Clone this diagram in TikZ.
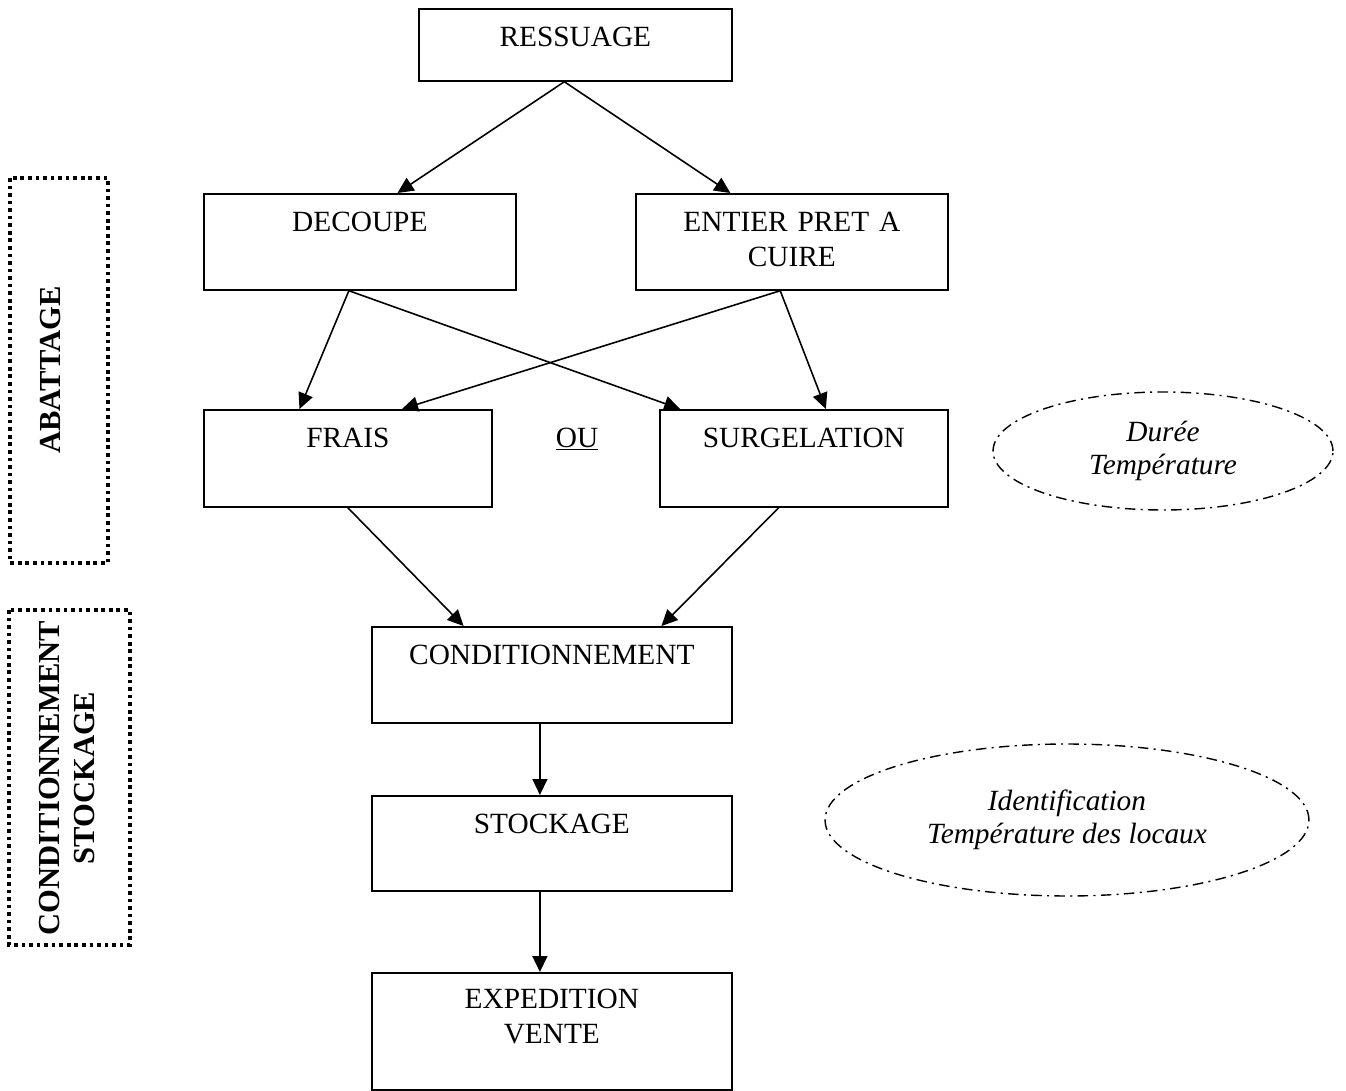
\documentclass[tikz,border=0pt]{standalone}
\usepackage{fontspec}
\setmainfont{Liberation Serif}
\usetikzlibrary{arrows.meta, calc, shapes.geometric}

\begin{document}
\begin{tikzpicture}[
    x=0.02cm, y=-0.02cm,
    >={Triangle[length=3.2mm, width=3mm]},
    every node/.style={font=\fontsize{16.7}{19.5}\selectfont},
    stepbox/.style={draw, line width=1pt, anchor=north west, align=center,
        inner xsep=0pt, inner ysep=0pt, text height=7.6mm},
    phasebox/.style={line width=2.1pt, dash pattern=on 2.1pt off 2.2pt},
    notebubble/.style={ellipse, draw, line width=0.8pt, inner sep=0pt,
        dash pattern=on 6pt off 3pt on 1.2pt off 3pt, align=center,
        font=\fontsize{16.7}{18.5}\selectfont\itshape},
    flow/.style={->, line width=0.9pt},
]
\useasboundingbox (0,0) rectangle (1346,1091);
% phases on the left
\draw[phasebox] (10,178) rectangle (108,563);
\node[rotate=90, font=\bfseries\fontsize{17.4}{19.5}\selectfont] (abattage) at (51,370) {ABATTAGE};
\draw[phasebox] (9,610) rectangle (130,945);
\node[rotate=90, align=center, font=\bfseries\fontsize{17.4}{19.8}\selectfont] (condstock) at (67,778) {CONDITIONNEMENT\\STOCKAGE};
% process steps
\node[stepbox, text width=6.26cm, text depth=6.8mm] (ressuage) at (418,8) {RESSUAGE};
\node[stepbox, text width=6.24cm, text depth=11.6mm] (decoupe) at (203,193) {DECOUPE};
\node[stepbox, text width=6.24cm, text depth=11.6mm] (entier) at (635,193) {ENTIER PRET A\\CUIRE};
\node[stepbox, text width=5.76cm, text depth=11.8mm] (frais) at (203,409) {FRAIS};
\node[anchor=base] (ou) at (577,447) {\underline{OU}};
\node[stepbox, text width=5.76cm, text depth=11.8mm] (surgel) at (659,409) {SURGELATION};
\node[stepbox, text width=7.2cm, text depth=11.6mm] (condit) at (371,626) {CONDITIONNEMENT};
\node[stepbox, text width=7.2cm, text depth=11.4mm] (stock) at (371,795) {STOCKAGE};
\node[stepbox, text width=7.2cm, text height=7.2mm, text depth=16.2mm] (expedit) at (371,972) {EXPEDITION\\VENTE};
% control points
\node[notebubble, minimum width=6.8cm, minimum height=2.36cm] (duree) at (1163,451) {Durée\\Température};
\node[notebubble, minimum width=9.68cm, minimum height=3.04cm] (ident) at (1067,820) {Identification\\Température des locaux};
% arrows from ressuage
\draw[flow] ($(ressuage.south west)!0.465!(ressuage.south east)$) -- ($(decoupe.north west)!0.62!(decoupe.north east)$);
\draw[flow] ($(ressuage.south west)!0.465!(ressuage.south east)$) -- ($(entier.north west)!0.304!(entier.north east)$);
% crossing arrows to frais / surgelation
\draw[flow] ($(decoupe.south west)!0.465!(decoupe.south east)$) -- ($(frais.north west)!0.333!(frais.north east)$);
\draw[flow] ($(decoupe.south west)!0.465!(decoupe.south east)$) -- ($(surgel.north west)!0.073!(surgel.north east)$);
\draw[flow] ($(entier.south west)!0.463!(entier.south east)$) -- ($(frais.north west)!0.687!(frais.north east)$);
\draw[flow] ($(entier.south west)!0.463!(entier.south east)$) -- ($(surgel.north west)!0.576!(surgel.north east)$);
% into conditionnement
\draw[flow] (frais.south) -- ($(condit.north west)!0.256!(condit.north east)$);
\draw[flow] ($(surgel.south west)!0.413!(surgel.south east)$) -- ($(condit.north west)!0.803!(condit.north east)$);
% down the chain
\draw[flow] ($(condit.south west)!0.467!(condit.south east)$) -- ($(stock.north west)!0.467!(stock.north east)$);
\draw[flow] ($(stock.south west)!0.467!(stock.south east)$) -- ($(expedit.north west)!0.467!(expedit.north east)$);
\end{tikzpicture}
\end{document}
